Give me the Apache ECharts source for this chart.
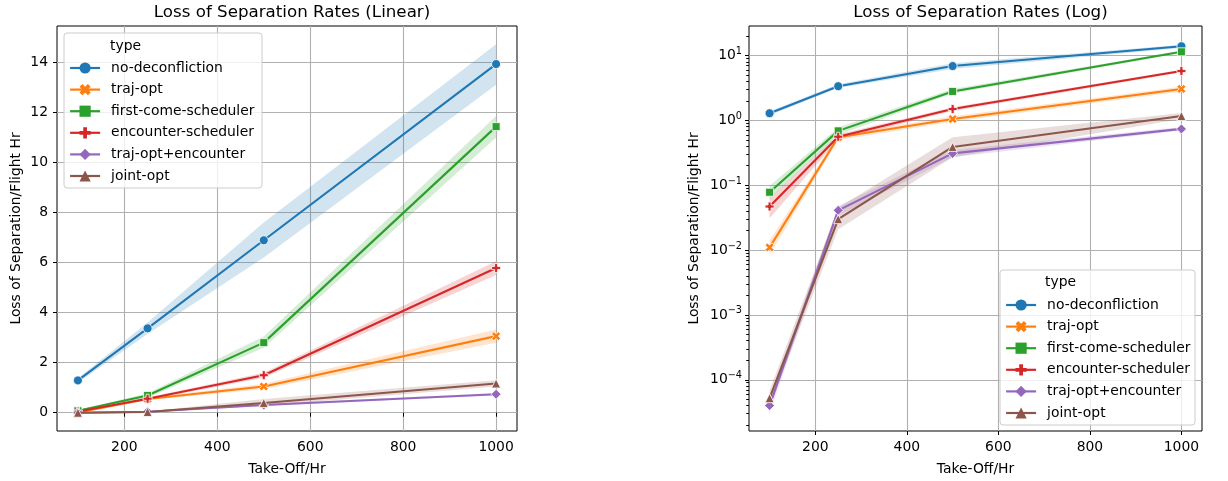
<!DOCTYPE html>
<html><head><meta charset="utf-8">
<script src="https://cdn.jsdelivr.net/npm/echarts@6/dist/echarts.min.js"></script>
<style>html,body{margin:0;padding:0;background:#fff}#c{width:1228px;height:481px}</style>
</head><body><div id="c"></div>
<script>
// ---- data ----
const takeoffs = [100, 250, 500, 1000];
const seriesNames = ['no-deconfliction','traj-opt','first-come-scheduler','encounter-scheduler','traj-opt+encounter','joint-opt'];
const noDeconfliction   = [1.29, 3.37, 6.89, 13.93];
const noDeconflictionLo = [1.20, 3.15, 6.20, 13.10];
const noDeconflictionHi = [1.38, 3.60, 7.60, 14.72];
const trajOpt   = [0.011, 0.55, 1.05, 3.06];
const trajOptLo = [0.0085, 0.50, 0.95, 2.80];
const trajOptHi = [0.014, 0.60, 1.16, 3.32];
const firstCome   = [0.078, 0.69, 2.80, 11.43];
const firstComeLo = [0.062, 0.60, 2.60, 11.00];
const firstComeHi = [0.097, 0.78, 3.05, 11.85];
const encounterSched   = [0.047, 0.56, 1.50, 5.78];
const encounterSchedLo = [0.031, 0.51, 1.40, 5.50];
const encounterSchedHi = [0.063, 0.61, 1.60, 6.05];
const trajOptEnc   = [0.00004, 0.041, 0.31, 0.74];
const trajOptEncLo = [0.000031, 0.034, 0.27, 0.70];
const trajOptEncHi = [0.00005, 0.048, 0.35, 0.79];
const jointOpt   = [0.000052, 0.030, 0.39, 1.17];
const jointOptLo = [0.00004, 0.021, 0.27, 1.05];
const jointOptHi = [0.000068, 0.045, 0.55, 1.30];
const xTicks = [200, 400, 600, 800, 1000];
const yTicksLinear = [0, 2, 4, 6, 8, 10, 12, 14];
const yTicksLog = [1e-4, 1e-3, 1e-2, 1e-1, 1, 10];
const yTicksLogMinor = [
  2e-5, 3e-5, 4e-5, 5e-5, 6e-5, 7e-5, 8e-5, 9e-5,
  2e-4, 3e-4, 4e-4, 5e-4, 6e-4, 7e-4, 8e-4, 9e-4,
  2e-3, 3e-3, 4e-3, 5e-3, 6e-3, 7e-3, 8e-3, 9e-3,
  0.02, 0.03, 0.04, 0.05, 0.06, 0.07, 0.08, 0.09,
  0.2, 0.3, 0.4, 0.5, 0.6, 0.7, 0.8, 0.9,
  2, 3, 4, 5, 6, 7, 8, 9, 20
];

const values = [noDeconfliction, trajOpt, firstCome, encounterSched, trajOptEnc, jointOpt];
const lows = [noDeconflictionLo, trajOptLo, firstComeLo, encounterSchedLo, trajOptEncLo, jointOptLo];
const highs = [noDeconflictionHi, trajOptHi, firstComeHi, encounterSchedHi, trajOptEncHi, jointOptHi];

const colors = ['#1f77b4','#ff7f0e','#2ca02c','#d62728','#9467bd','#8c564b'];
const plusPath = 'path://M-1,-3L1,-3L1,-1L3,-1L3,1L1,1L1,3L-1,3L-1,1L-3,1L-3,-1L-1,-1Z';
const xPath = 'path://M1.414,-2.828L2.828,-1.414L1.414,0L2.828,1.414L1.414,2.828L0,1.414L-1.414,2.828L-2.828,1.414L-1.414,0L-2.828,-1.414L-1.414,-2.828L0,-1.414Z';
const symbols = ['circle', xPath, 'rect', plusPath, 'diamond', 'triangle'];
const symbolSizes = [9, 9, 8, 9, 10, 9];

const FONT = 'DejaVu Sans';
const fs = 13.9;
const gridColor = '#b0b0b0';

function sup(e){ return e < 0 ? '\u2212' + (-e) : String(e); }

function bandSeries(gi, k) {
  const lo = lows[k], hi = highs[k];
  return {
    type: 'custom', name: 'band' + gi + '_' + k, xAxisIndex: gi, yAxisIndex: gi === 0 ? 0 : 1,
    silent: true, z: 1 + k * 0.01, clip: true,
    data: takeoffs.map((x, i) => [x, lo[i], hi[i]]),
    encode: { x: 0, y: [1, 2] },
    renderItem: function (params, api) {
      if (params.dataIndex !== 0) return null;
      const up = takeoffs.map((x, i) => api.coord([x, hi[i]]));
      const dn = takeoffs.map((x, i) => api.coord([x, lo[i]])).reverse();
      return { type: 'polygon', shape: { points: up.concat(dn) }, style: { fill: colors[k], opacity: 0.2 } };
    }
  };
}
function lineSeries(gi, k) {
  return {
    type: 'line', name: seriesNames[k], xAxisIndex: gi, yAxisIndex: gi === 0 ? 0 : 1,
    data: takeoffs.map((x, i) => [x, values[k][i]]),
    symbol: symbols[k], symbolSize: symbolSizes[k], showSymbol: true,
    lineStyle: { color: colors[k], width: 2.1 },
    itemStyle: { color: colors[k], borderColor: '#fff', borderWidth: 0.8 },
    z: 3 + k * 0.01, emphasis: { disabled: true }
  };
}

const series = [];
for (let gi = 0; gi < 2; gi++) {
  for (let k = 0; k < 6; k++) { series.push(bandSeries(gi, k)); series.push(lineSeries(gi, k)); }
}

const axisLabelStyle = { color: '#000', fontFamily: FONT, fontSize: fs };
const xAxisBase = (gi) => ({
  type: 'value', gridIndex: gi, min: 55, max: 1045,
  name: 'Take-Off/Hr', nameLocation: 'middle', nameGap: 31,
  nameTextStyle: { color: '#000', fontFamily: FONT, fontSize: fs },
  axisLine: { show: false },
  axisTick: { show: true, customValues: xTicks, length: 4, lineStyle: { color: '#000', width: 1 } },
  axisLabel: Object.assign({ customValues: xTicks, margin: 9, formatter: v => String(v) }, axisLabelStyle),
  splitLine: { show: true, lineStyle: { color: gridColor, width: 1.1 } }
});

const legendBase = (left, top) => ({
  left: left, top: top, orient: 'vertical', itemWidth: 30, itemHeight: 14, itemGap: 7.6,
  data: seriesNames, selectedMode: false, padding: 0,
  itemStyle: { borderWidth: 0 },
  lineStyle: { width: 2.2 },
  textStyle: { color: '#000', fontFamily: FONT, fontSize: fs, padding: [0, 0, 0, 6] },
  z: 10
});

const option = {
  animation: false,
  backgroundColor: '#fff',
  grid: [
    { left: 57, top: 26, width: 460, height: 406, show: true, borderColor: '#000', borderWidth: 1, backgroundColor: 'transparent' },
    { left: 749, top: 26, width: 453, height: 406, show: true, borderColor: '#000', borderWidth: 1, backgroundColor: 'transparent' }
  ],
  xAxis: [xAxisBase(0), xAxisBase(1)],
  yAxis: [
    {
      type: 'value', gridIndex: 0, min: -0.73, max: 15.45,
      name: 'Loss of Separation/Flight Hr', nameLocation: 'middle', nameGap: 34,
      nameTextStyle: { color: '#000', fontFamily: FONT, fontSize: fs },
      axisLine: { show: false },
      axisTick: { show: true, customValues: yTicksLinear, length: 4, lineStyle: { color: '#000', width: 1 } },
      axisLabel: Object.assign({ customValues: yTicksLinear, margin: 9 }, axisLabelStyle),
      splitLine: { show: true, lineStyle: { color: gridColor, width: 1.1 } }
    },
    {
      type: 'log', logBase: 10, gridIndex: 1, min: 1.62e-5, max: 28.6, position: 'left',
      name: 'Loss of Separation/Flight Hr', nameLocation: 'middle', nameGap: 48,
      nameTextStyle: { color: '#000', fontFamily: FONT, fontSize: fs },
      axisLine: { show: false },
      axisTick: { show: true, customValues: yTicksLog, length: 4, lineStyle: { color: '#000', width: 1 } },
      axisLabel: {
        customValues: yTicksLog, margin: 7, color: '#000', fontFamily: FONT, fontSize: fs,
        formatter: function (v) { const e = Math.round(Math.log10(v)); return '{b|10}{s|' + sup(e) + '}'; },
        rich: {
          b: { fontFamily: FONT, fontSize: fs, color: '#000', lineHeight: 18 },
          s: { fontFamily: FONT, fontSize: 9.7, color: '#000', verticalAlign: 'top', lineHeight: 18, padding: [0, 0, 6, 0] }
        }
      },
      splitLine: { show: true, lineStyle: { color: gridColor, width: 1.1 } }
    },
    {
      type: 'log', logBase: 10, gridIndex: 1, min: 1.62e-5, max: 28.6, offset: -453,
      axisLine: { show: false },
      axisTick: { show: true, inside: true, customValues: yTicksLogMinor, length: 2.8, lineStyle: { color: '#000', width: 1 } },
      axisLabel: { show: false },
      splitLine: { show: false }
    }
  ],
  legend: [legendBase(69, 61), legendBase(1005, 298)],
  graphic: [
    { type: 'rect', z: 8, shape: { x: 64, y: 33, width: 198, height: 155, r: 3 }, style: { fill: 'rgba(255,255,255,0.8)', stroke: '#cccccc', lineWidth: 1 } },
    { type: 'text', z: 10, x: 110, y: 46, style: { text: 'type', fontFamily: FONT, fontSize: fs, fill: '#000', verticalAlign: 'middle' } },
    { type: 'rect', z: 8, shape: { x: 1000, y: 270, width: 195, height: 155, r: 3 }, style: { fill: 'rgba(255,255,255,0.8)', stroke: '#cccccc', lineWidth: 1 } },
    { type: 'text', z: 10, x: 1045, y: 282, style: { text: 'type', fontFamily: FONT, fontSize: fs, fill: '#000', verticalAlign: 'middle' } }
  ],
  title: [
    { text: 'Loss of Separation Rates (Linear)', left: 287, top: -1, textAlign: 'center', textStyle: { fontFamily: FONT, fontSize: 16.7, fontWeight: 'normal', color: '#000' } },
    { text: 'Loss of Separation Rates (Log)', left: 975.5, top: -1, textAlign: 'center', textStyle: { fontFamily: FONT, fontSize: 16.7, fontWeight: 'normal', color: '#000' } }
  ],
  series: series
};

const chart = echarts.init(document.getElementById('c'), null, { renderer: 'canvas' });
chart.setOption(option);
</script></body></html>
